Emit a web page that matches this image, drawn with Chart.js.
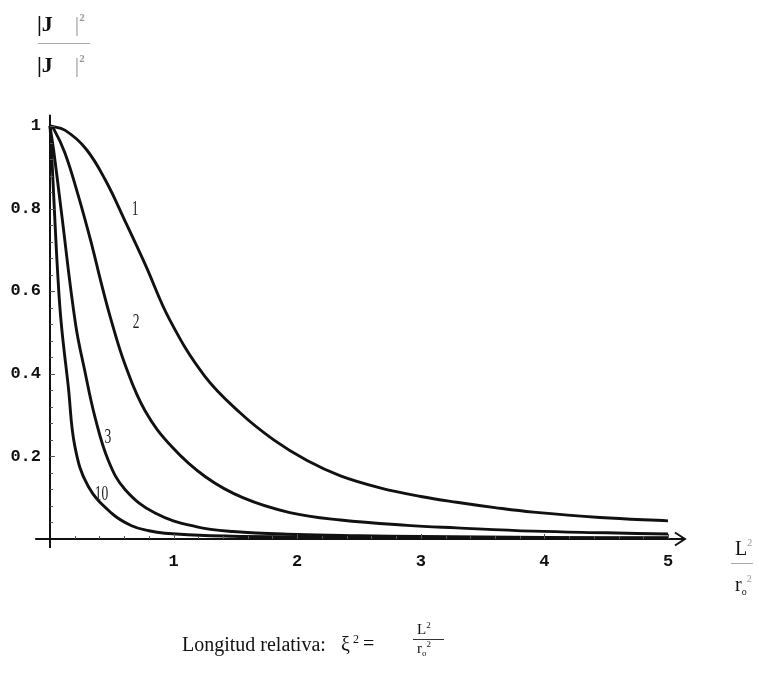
<!DOCTYPE html>
<html><head><meta charset="utf-8">
<script src="https://cdn.jsdelivr.net/npm/chart.js@4.4.0/dist/chart.umd.min.js"></script>
<style>
html,body{margin:0;padding:0;background:#fff;}
#wrap{position:relative;width:759px;height:693px;overflow:hidden;background:#fff;}
canvas{position:absolute;left:0;top:0;}
.t{position:absolute;font-family:"Liberation Serif","Times New Roman",serif;line-height:1;white-space:nowrap;color:#111;}
.g{color:#9a9a9a;font-weight:normal;}
.sup{font-size:11px;position:relative;top:-10px;color:#999;}
.bar{position:absolute;height:1px;background:#aaa;}
.barD{position:absolute;height:1px;background:#333;}
</style></head><body>
<div id="wrap">
<canvas id="c" width="759" height="693"></canvas>
<!-- y-axis title -->
<div class="t" style="left:37px;top:13px;font-size:22px;font-weight:bold;">|J<span class="g">&nbsp;&nbsp;&nbsp;&nbsp;|</span><span class="sup">2</span></div>
<div class="bar" style="left:38px;top:43px;width:52px;"></div>
<div class="t" style="left:37px;top:54px;font-size:22px;font-weight:bold;">|J<span class="g">&nbsp;&nbsp;&nbsp;&nbsp;|</span><span class="sup">2</span></div>
<!-- x-axis title -->
<div class="t" style="left:735px;top:538px;font-size:20px;">L<span class="sup" style="font-size:10px;top:-9px;">2</span></div>
<div class="bar" style="left:731px;top:563px;width:22px;"></div>
<div class="t" style="left:735px;top:574px;font-size:20px;">r<span style="font-size:10px;position:relative;top:4px;">o</span><span class="sup" style="font-size:10px;top:-9px;">2</span></div>
<!-- bottom caption -->
<div class="t" style="left:182px;top:634px;font-size:20px;">Longitud relativa:</div>
<div class="t" style="left:341px;top:634px;font-size:20px;">ξ<span style="font-size:12px;position:relative;top:-8px;">&nbsp;2</span></div>
<div class="t" style="left:363px;top:633px;font-size:20px;">=</div>
<div class="t" style="left:417px;top:622px;font-size:15px;">L<span style="font-size:9px;position:relative;top:-6px;">2</span></div>
<div class="barD" style="left:413px;top:639px;width:31px;"></div>
<div class="t" style="left:417px;top:641px;font-size:15px;">r<span style="font-size:9px;position:relative;top:3px;">o</span><span style="font-size:9px;position:relative;top:-6px;">2</span></div>
</div>
<script>
// ---- data ----
const xTicks = [1, 2, 3, 4, 5];
const yTicks = [0.2, 0.4, 0.6, 0.8, 1];
const curveNames = ['1', '2', '3', '10'];
const labelX = [0.688, 0.696, 0.469, 0.417];
const labelY = [0.798, 0.524, 0.246, 0.108];

const x1 = [0, 0.12, 0.29, 0.45, 0.61, 0.77, 0.97, 1.25, 1.54, 1.81, 2.08, 2.35, 2.67, 3.0, 3.29, 3.6, 3.91, 4.45, 5.0];
const y1 = [1.0, 0.99, 0.945, 0.868, 0.768, 0.665, 0.53, 0.395, 0.305, 0.24, 0.19, 0.153, 0.124, 0.103, 0.089, 0.076, 0.065, 0.052, 0.044];

const x2 = [0, 0.03, 0.12, 0.23, 0.34, 0.41, 0.49, 0.61, 0.77, 0.99, 1.26, 1.56, 1.94, 2.35, 2.89, 3.29, 3.91, 4.5, 5.0];
const y2 = [1.0, 0.993, 0.935, 0.83, 0.71, 0.625, 0.535, 0.42, 0.31, 0.222, 0.15, 0.10, 0.064, 0.046, 0.033, 0.027, 0.019, 0.015, 0.012];

const x3 = [0, 0.03, 0.09, 0.206, 0.283, 0.364, 0.472, 0.607, 0.85, 1.18, 1.48, 2.0, 2.5, 3.0, 4.0, 5.0];
const y3 = [1.0, 0.94, 0.797, 0.522, 0.405, 0.295, 0.19, 0.12, 0.063, 0.03, 0.018, 0.011, 0.008, 0.006, 0.004, 0.003];

const x10 = [0, 0.012, 0.035, 0.06, 0.09, 0.148, 0.202, 0.31, 0.5, 0.66, 0.8, 0.93, 1.3, 2.0, 3.0, 4.0, 5.0];
const y10 = [1.0, 0.94, 0.80, 0.655, 0.525, 0.369, 0.223, 0.127, 0.062, 0.032, 0.02, 0.014, 0.008, 0.005, 0.003, 0.002, 0.002];

const curvesX = [x1, x2, x3, x10];
const curvesY = [y1, y2, y3, y10];

// ---- chart ----
const datasets = curvesX.map((xs, k) => ({
  label: curveNames[k],
  data: xs.map((x, i) => ({x: x, y: curvesY[k][i]})),
  borderColor: '#111',
  borderWidth: 2.9,
  pointRadius: 0,
  showLine: true,
  fill: false,
  tension: 0.4,
  clip: 10
}));

const axesPlugin = {
  id: 'axesPlugin',
  afterDraw(chart) {
    const ctx = chart.ctx;
    const xs = chart.scales.x, ys = chart.scales.y;
    const x0 = xs.getPixelForValue(0), y0 = ys.getPixelForValue(0);
    ctx.save();
    ctx.strokeStyle = '#111';
    ctx.lineWidth = 2;
    // y axis
    ctx.beginPath();
    ctx.moveTo(x0, ys.getPixelForValue(1.027));
    ctx.lineTo(x0, ys.getPixelForValue(-0.022));
    ctx.stroke();
    // x axis
    const xEnd = xs.getPixelForValue(5.137);
    ctx.beginPath();
    ctx.moveTo(xs.getPixelForValue(-0.12), y0);
    ctx.lineTo(xEnd, y0);
    ctx.stroke();
    // arrow head
    ctx.beginPath();
    ctx.moveTo(xEnd - 10, y0 - 6.5);
    ctx.lineTo(xEnd, y0);
    ctx.lineTo(xEnd - 10, y0 + 6.5);
    ctx.stroke();
    // ticks
    ctx.lineWidth = 1;
    ctx.strokeStyle = '#555';
    for (let v = 0.04; v <= 1.001; v += 0.04) {
      const p = Math.round(ys.getPixelForValue(v)) + 0.5;
      const major = yTicks.some(t => Math.abs(t - v) < 1e-6);
      ctx.beginPath(); ctx.moveTo(x0, p); ctx.lineTo(x0 + (major ? 5 : 3), p); ctx.stroke();
    }
    for (let v = 0.2; v <= 5.001; v += 0.2) {
      const p = Math.round(xs.getPixelForValue(v)) + 0.5;
      const major = xTicks.some(t => Math.abs(t - v) < 1e-6);
      ctx.beginPath(); ctx.moveTo(p, y0); ctx.lineTo(p, y0 - (major ? 5 : 3)); ctx.stroke();
    }
    // curve labels
    ctx.fillStyle = '#222';
    ctx.font = '15px "Liberation Serif", serif';
    ctx.textAlign = 'center';
    ctx.textBaseline = 'middle';
    curveNames.forEach((n, k) => {
      const px = xs.getPixelForValue(labelX[k]);
      const py = ys.getPixelForValue(labelY[k]);
      ctx.save();
      ctx.translate(px, py);
      ctx.scale(0.9, 1.45);
      ctx.fillText(n, 0, 0);
      ctx.restore();
    });
    ctx.restore();
  }
};

new Chart(document.getElementById('c'), {
  type: 'scatter',
  data: { datasets },
  options: {
    responsive: false,
    devicePixelRatio: 1,
    animation: false,
    layout: { padding: { left: 0, right: 91, top: 126, bottom: 114 } },
    plugins: { legend: { display: false }, tooltip: { enabled: false } },
    scales: {
      x: {
        type: 'linear', min: 0, max: 5,
        afterFit(s) { s.height = 40; },
        grid: { display: false, drawTicks: false },
        border: { display: false },
        afterBuildTicks(s) { s.ticks = [0].concat(xTicks).map(v => ({value: v})); },
        ticks: {
          padding: 13,
          color: '#111',
          font: { family: '"Liberation Mono", monospace', size: 17, weight: 'bold' },
          callback: v => (v === 0 ? '' : String(v))
        }
      },
      y: {
        type: 'linear', min: 0, max: 1,
        afterFit(s) { s.width = 50; },
        grid: { display: false, drawTicks: false },
        border: { display: false },
        afterBuildTicks(s) { s.ticks = [0].concat(yTicks).map(v => ({value: v})); },
        ticks: {
          padding: 9,
          color: '#111',
          font: { family: '"Liberation Mono", monospace', size: 17, weight: 'bold' },
          callback: v => (v === 0 ? '' : String(v))
        }
      }
    }
  },
  plugins: [axesPlugin]
});
</script>
</body></html>
